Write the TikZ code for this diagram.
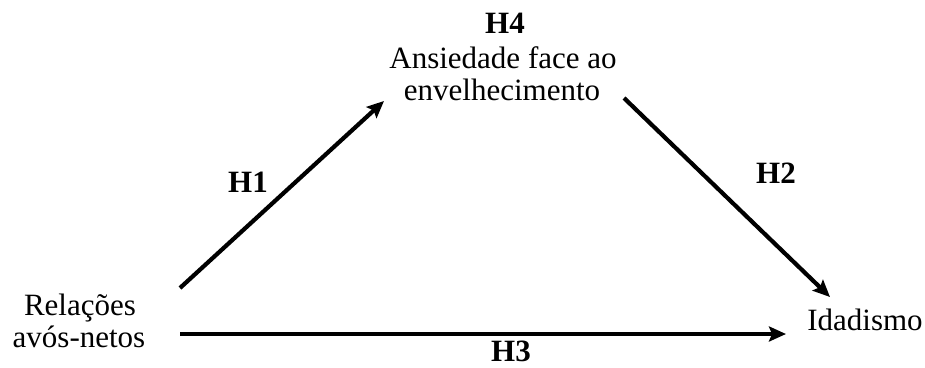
\documentclass[tikz,border=0pt]{standalone}
\usepackage{fontspec}
\setmainfont{Liberation Serif}
\usetikzlibrary{arrows.meta}
\begin{document}
\begin{tikzpicture}[x=1pt,y=-1pt,
  lbl/.style={anchor=base,inner sep=0pt,font=\fontsize{31}{33}\selectfont},
  hyp/.style={anchor=base,inner sep=0pt,font=\fontsize{31}{33}\selectfont\bfseries},
  arr/.style={line width=4.2pt,-{Stealth[length=17pt,width=15pt,inset=3pt]}}]
\useasboundingbox (0,0) rectangle (925,367);
% texts
\node[hyp] (h4) at (505,33) {H4};
\node[lbl] (ans1) at (503,68) {Ansiedade face ao};
\node[lbl] (ans2) at (502,100) {envelhecimento};
\node[lbl] (rel1) at (80,315) {Relações};
\node[lbl] (rel2) at (79,347) {avós-netos};
\node[lbl] (ida) at (865,330) {Idadismo};
\node[hyp] (h1) at (248,192) {H1};
\node[hyp] (h2) at (776,183) {H2};
\node[hyp] (h3) at (511,361) {H3};
% arrow ends
\coordinate (a1s) at (180,288);
\coordinate (a1e) at (384,101);
\coordinate (a2s) at (624,98);
\coordinate (a2e) at (830,297);
\coordinate (a3s) at (180,334);
\coordinate (a3e) at (786,334);
\draw[arr] (a1s) -- (a1e);
\draw[arr] (a2s) -- (a2e);
\draw[arr] (a3s) -- (a3e);
\end{tikzpicture}
\end{document}
